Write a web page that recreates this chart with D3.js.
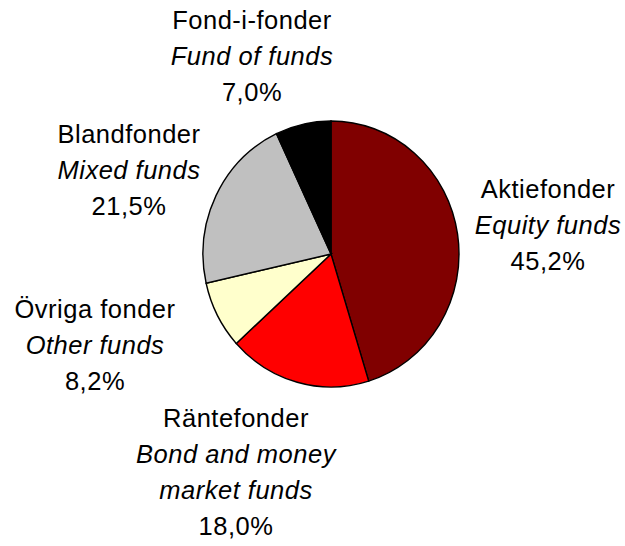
<!DOCTYPE html>
<html>
<head>
<meta charset="utf-8">
<script src="https://cdn.jsdelivr.net/npm/d3@7"></script>
<style>
  body { margin: 0; background: #fff; }
  text { font-family: "Liberation Sans", Arial, sans-serif; fill: #000; }
</style>
</head>
<body>
<div id="chartContainer"></div>
<script>
// Fund categories, clockwise from 12 o'clock
const namesSv = ["Aktiefonder", "Räntefonder", "Övriga fonder", "Blandfonder", "Fond-i-fonder"];
const namesEn = [["Equity funds"], ["Bond and money", "market funds"], ["Other funds"], ["Mixed funds"], ["Fund of funds"]];
const shares = [45.2, 18.0, 8.2, 21.5, 7.0];
const colors = ["#800000", "#ff0000", "#ffffcc", "#c0c0c0", "#000000"];

// label block anchors (centre x, first baseline y)
const labelPos = [[548, 198], [236, 427], [95, 318], [129, 143], [252, 29]];

const w = 625, h = 546;
const cx = 331, cy = 254, rx = 128, ry = 133;
const lineH = 36;

const svg = d3.select("#chartContainer").append("svg")
    .attr("width", w)
    .attr("height", h);

const pie = d3.pie().sort(null).value(d => d);
const arc = d3.arc().innerRadius(0).outerRadius(rx);

// the original pie is slightly taller than wide
const g = svg.append("g")
    .attr("transform", `translate(${cx}, ${cy}) scale(1, ${ry / rx})`);

g.selectAll("path")
    .data(pie(shares))
    .enter()
    .append("path")
    .attr("d", arc)
    .style("fill", (d, i) => colors[i])
    .style("stroke", "#000")
    .style("stroke-width", 1.4);

const fmt = v => v.toFixed(1).replace(".", ",") + "%";

namesSv.forEach((name, i) => {
    const [x, y] = labelPos[i];
    const t = svg.append("text")
        .attr("x", x)
        .attr("y", y)
        .attr("text-anchor", "middle")
        .style("font-size", "25.5px")
        .style("letter-spacing", "0.5px");
    t.append("tspan").attr("x", x).text(name);
    namesEn[i].forEach(line => {
        t.append("tspan").attr("x", x).attr("dy", lineH)
            .style("font-style", "italic").text(line);
    });
    t.append("tspan").attr("x", x).attr("dy", lineH).text(fmt(shares[i]));
});
</script>
</body>
</html>
